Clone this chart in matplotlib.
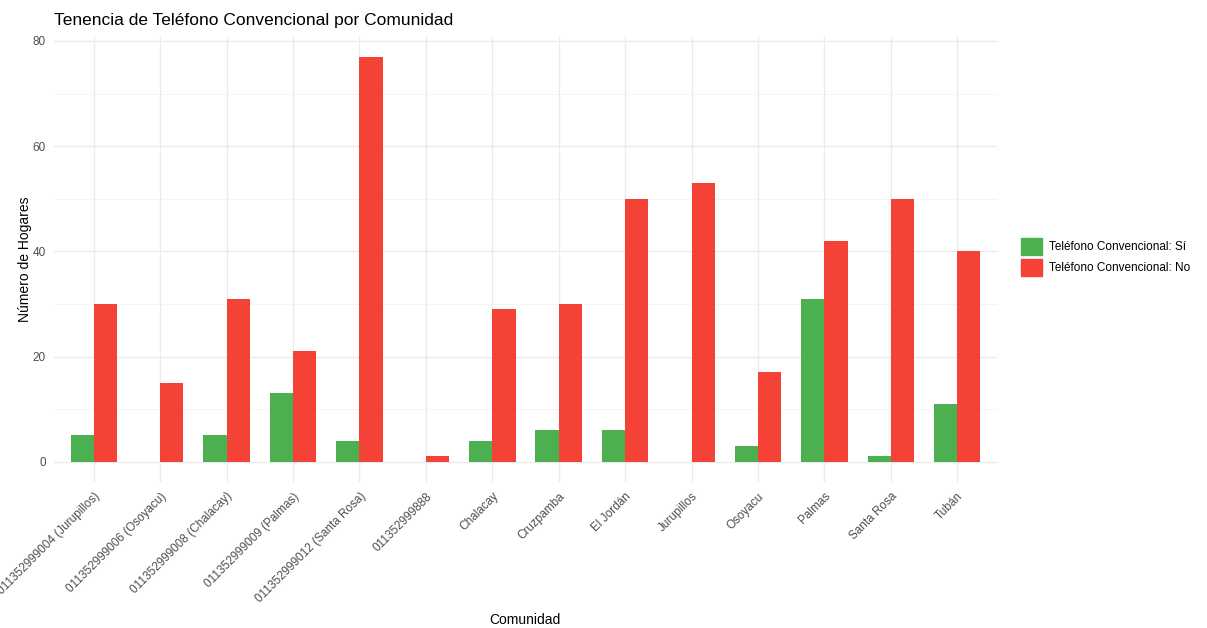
import numpy as np
import matplotlib
matplotlib.use('Agg')
import matplotlib.pyplot as plt
from matplotlib.patches import Patch

plt.rcParams['font.family'] = ['Liberation Sans', 'DejaVu Sans']

comunidades = ['011352999004 (Jurupillos)', '011352999006 (Osoyacu)', '011352999008 (Chalacay)',
               '011352999009 (Palmas)', '011352999012 (Santa Rosa)', '011352999888',
               'Chalacay', 'Cruzpamba', 'El Jordán', 'Jurupillos', 'Osoyacu', 'Palmas',
               'Santa Rosa', 'Tubán']
tel_si = [5, 0, 5, 13, 4, 0, 4, 6, 6, 0, 3, 31, 1, 11]
tel_no = [30, 15, 31, 21, 77, 1, 29, 30, 50, 53, 17, 42, 50, 40]

verde = '#4CAF50'
rojo = '#F44336'

fig = plt.figure(figsize=(12.07, 6.28), dpi=100)
ax = fig.add_axes([54/1207, 1-482/628, (997-54)/1207, (482-36.5)/628])

x = np.arange(1, len(comunidades)+1)
w = 0.35
ax.bar(x - w/2, tel_si, width=w, color=verde, zorder=3)
ax.bar(x + w/2, tel_no, width=w, color=rojo, zorder=3)

ax.set_xlim(0.4, 14.6)
ax.set_ylim(-3.85, 80.85)
ax.set_yticks([0, 20, 40, 60, 80])
ax.set_yticks([10, 30, 50, 70], minor=True)
ax.set_xticks(x)
ax.set_xticklabels(comunidades, rotation=45, ha='right', rotation_mode='anchor')
ax.grid(which='major', color='#EBEBEB', linewidth=1.0, zorder=0)
ax.grid(which='minor', axis='y', color='#F2F2F2', linewidth=0.6, zorder=0)
for s in ax.spines.values():
    s.set_visible(False)
ax.tick_params(axis='both', which='both', length=0, labelsize=8.5, labelcolor='#4D4D4D')
ax.tick_params(axis='x', pad=6)
ax.tick_params(axis='y', pad=6)

ax.set_title('Tenencia de Teléfono Convencional por Comunidad', loc='left', fontsize=12.5, pad=8)
ax.set_ylabel('Número de Hogares', fontsize=10)
ax.yaxis.set_label_coords(-(54-32)/943, 0.5)
fig.text(525/1207, 1-620/628, 'Comunidad', ha='center', va='center', fontsize=10)

handles = [Patch(color=verde, label='Teléfono Convencional: Sí'),
           Patch(color=rojo, label='Teléfono Convencional: No')]
fig.legend(handles=handles, loc='center left', bbox_to_anchor=(1010/1207, 1-257/628),
           frameon=False, fontsize=8.5, handlelength=1.8, handleheight=1.8,
           handletextpad=0.6, labelspacing=0.35)

plt.savefig('out.png', dpi=100)
